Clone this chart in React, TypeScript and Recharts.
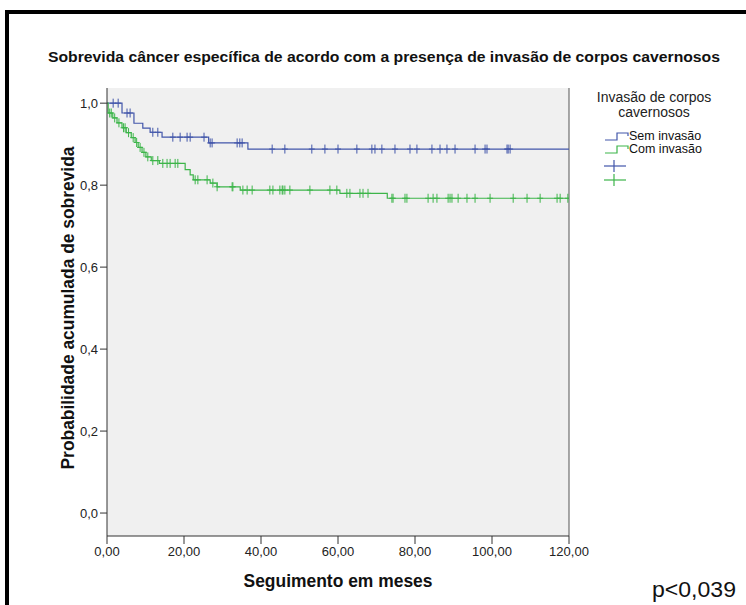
import React from 'react';
import { ComposedChart, Line, Scatter, XAxis, YAxis, CartesianGrid, ReferenceLine } from 'recharts';

// Kaplan-Meier steps (months, cumulative survival)
const blueEventTimes = [3.9, 7.0, 9.3, 11.2, 14.3, 26.4, 36.6];
const blueEventSurv = [0.976, 0.951, 0.939, 0.929, 0.917, 0.903, 0.888];
const blueCensored = [1.6, 2.9, 5.2, 6.0, 11.9, 13.2, 17.1, 19.0, 20.8, 21.6, 25.2, 26.8, 27.3, 33.8, 34.5, 35.1,
  42.9, 46.2, 53.2, 56.6, 60.0, 64.9, 68.8, 69.6, 71.4, 74.8, 78.7, 80.5, 84.4, 86.5, 88.3, 90.4, 95.6, 98.2,
  98.7, 103.9, 104.2, 104.7];

const greenEventTimes = [0.3, 1.5, 2.6, 3.9, 5.0, 6.3, 7.3, 8.1, 9.1, 10.1, 11.5, 13.6, 20.3, 21.6, 22.4, 26.8,
  28.6, 34.6, 60.5, 72.8];
const greenEventSurv = [0.976, 0.964, 0.952, 0.940, 0.928, 0.916, 0.904, 0.892, 0.880, 0.869, 0.860, 0.853, 0.838,
  0.825, 0.813, 0.805, 0.796, 0.788, 0.780, 0.768];
const greenCensored = [0.7, 1.1, 2.0, 3.1, 4.3, 4.7, 5.6, 6.8, 7.7, 8.6, 9.6, 10.6, 11.9, 13.2, 14.5, 15.6, 16.4,
  17.7, 18.4, 22.9, 23.6, 26.0, 27.5, 28.6, 32.5, 32.7, 35.3, 36.4, 37.7, 42.3, 43.1, 44.9, 45.5, 45.7, 46.2, 47.5,
  52.7, 57.9, 59.7, 62.3, 63.1, 65.7, 66.5, 67.8, 74.0, 74.3, 77.4, 77.9, 83.4, 84.7, 85.7, 88.6, 89.1, 89.6, 91.2,
  93.5, 95.6, 99.5, 105.5, 109.1, 112.5, 116.9, 117.7, 119.7];

const xTicks = [0, 20, 40, 60, 80, 100, 120];
const yTicks = [0, 0.2, 0.4, 0.6, 0.8, 1.0];

const BLUE = '#4256aa';
const GREEN = '#3db54a';
const FONT = '"Liberation Sans", Arial, sans-serif';

const levelAt = (times: number[], surv: number[], t: number) => {
  let s = 1;
  for (let i = 0; i < times.length; i++) if (times[i] <= t) s = surv[i];
  return s;
};

const stepPoints = (times: number[], surv: number[]) => [
  { t: 0, s: 1 },
  ...times.map((t, i) => ({ t, s: surv[i] })),
  { t: 120, s: surv[surv.length - 1] },
];

const censorPoints = (cens: number[], times: number[], surv: number[]) =>
  cens.map((t) => ({ t, s: levelAt(times, surv, t) }));

const blueLine = stepPoints(blueEventTimes, blueEventSurv);
const greenLine = stepPoints(greenEventTimes, greenEventSurv);
const blueMarks = censorPoints(blueCensored, blueEventTimes, blueEventSurv);
const greenMarks = censorPoints(greenCensored, greenEventTimes, greenEventSurv);

const plus = (color: string) => (p: any) => (
  <g stroke={color} strokeWidth={1}>
    <line x1={p.cx} x2={p.cx} y1={p.cy - 4.5} y2={p.cy + 4.5} />
    <line x1={p.cx - 3} x2={p.cx + 3} y1={p.cy} y2={p.cy} />
  </g>
);

const fmtX = (v: number) => v.toFixed(2).replace('.', ',');
const fmtY = (v: number) => v.toFixed(1).replace('.', ',');

export default function App() {
  return (
    <div style={{ position: 'absolute', left: 0, top: 0, width: 746, height: 605, overflow: 'hidden', background: '#fff', fontFamily: FONT }}>
      <ComposedChart width={746} height={605} margin={{ top: 88, right: 177, bottom: 29, left: 0 }}>
        <CartesianGrid fill="#f0f0f0" stroke="transparent" horizontal={false} vertical={false} />
        <XAxis dataKey="t" type="number" domain={[0, 120]} ticks={xTicks} tickFormatter={fmtX} height={40}
          stroke="#333" tickSize={8} tickMargin={3} tick={{ fontSize: 13, fill: '#222', fontFamily: FONT }} allowDataOverflow />
        <YAxis dataKey="s" type="number" domain={[-0.056, 1.037]} ticks={yTicks} tickFormatter={fmtY} width={107}
          stroke="#333" tickSize={7} tickMargin={2} tick={{ fontSize: 13, fill: '#222', fontFamily: FONT }} allowDataOverflow />
        <ReferenceLine x={120} stroke="#555" />
        <Line data={blueLine} dataKey="s" type="stepAfter" stroke={BLUE} strokeWidth={1.2} dot={false} isAnimationActive={false} />
        <Line data={greenLine} dataKey="s" type="stepAfter" stroke={GREEN} strokeWidth={1.2} dot={false} isAnimationActive={false} />
        <Scatter data={blueMarks} dataKey="s" shape={plus(BLUE)} isAnimationActive={false} />
        <Scatter data={greenMarks} dataKey="s" shape={plus(GREEN)} isAnimationActive={false} />
      </ComposedChart>
      <svg width={746} height={605} style={{ position: 'absolute', left: 0, top: 0, pointerEvents: 'none' }}>
        <rect x={7} y={12} width={800} height={700} fill="none" stroke="#000" strokeWidth={4} />
        <text x={48} y={62} fontFamily='"Liberation Sans Narrow", "Liberation Sans", Arial' fontWeight="bold" fontSize={14}
          textLength={672} lengthAdjust="spacingAndGlyphs" fill="#111">
          Sobrevida câncer específica de acordo com a presença de invasão de corpos cavernosos
        </text>
        <text x={74} y={308} transform="rotate(-90 74 308)" textAnchor="middle" fontFamily={FONT} fontWeight="bold"
          fontSize={17.5} textLength={323} lengthAdjust="spacingAndGlyphs" fill="#111">
          Probabilidade acumulada de sobrevida
        </text>
        <text x={338} y={587} textAnchor="middle" fontFamily={FONT} fontWeight="bold" fontSize={17.5}
          textLength={189} lengthAdjust="spacingAndGlyphs" fill="#111">
          Seguimento em meses
        </text>
        <text x={652} y={597} fontFamily={FONT} fontSize={22} textLength={84} lengthAdjust="spacingAndGlyphs" fill="#111">
          p&lt;0,039
        </text>
        {/* legend */}
        <text x={654} y={102} textAnchor="middle" fontFamily={FONT} fontSize={14} fill="#222">Invasão de corpos</text>
        <text x={654} y={117} textAnchor="middle" fontFamily={FONT} fontSize={14} fill="#222">cavernosos</text>
        <path d="M605 140 H617 V133 H628 V136" fill="none" stroke={BLUE} strokeWidth={1.2} />
        <text x={629} y={140} fontFamily={FONT} fontSize={12.5} fill="#111">Sem invasão</text>
        <path d="M605 153 H617 V146 H628 V149" fill="none" stroke={GREEN} strokeWidth={1.2} />
        <text x={629} y={153} fontFamily={FONT} fontSize={12.5} fill="#111">Com invasão</text>
        <g stroke={BLUE} strokeWidth={1.2}>
          <line x1={604} x2={626} y1={166} y2={166} />
          <line x1={614} x2={614} y1={160} y2={172} />
        </g>
        <g stroke={GREEN} strokeWidth={1.2}>
          <line x1={604} x2={626} y1={180} y2={180} />
          <line x1={614} x2={614} y1={174} y2={186} />
        </g>
      </svg>
    </div>
  );
}
